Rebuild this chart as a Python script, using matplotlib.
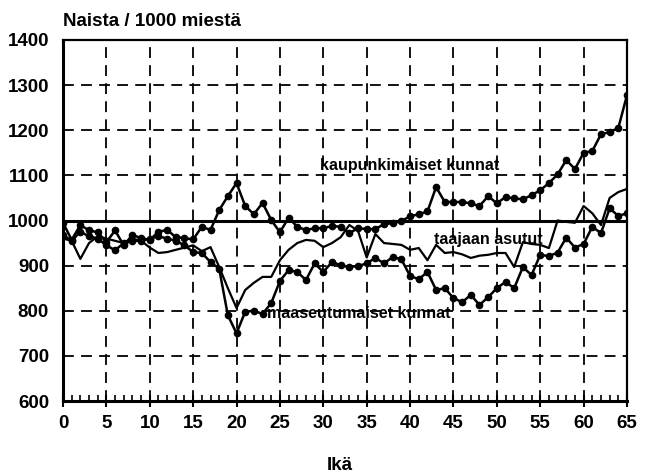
import numpy as np
import matplotlib.pyplot as plt
from matplotlib.ticker import MultipleLocator

ages = list(range(0, 66))

kaupunki = [995, 957, 990, 978, 974, 952, 978, 945, 968, 961,
            957, 975, 979, 963, 961, 958, 986, 979, 1023, 1054,
            1083, 1032, 1014, 1039, 1001, 974, 1006, 986, 979, 983,
            983, 988, 986, 972, 983, 981, 981, 992, 994, 999,
            1009, 1014, 1020, 1074, 1041, 1041, 1041, 1038, 1032, 1054,
            1038, 1052, 1049, 1047, 1056, 1067, 1083, 1102, 1134, 1114,
            1150, 1154, 1191, 1196, 1205, 1278]

taajaan = [960, 955, 915, 950, 965, 960, 955, 950, 960, 955,
           940, 928, 930, 935, 940, 945, 932, 941, 897, 850,
           806, 846, 862, 875, 875, 912, 935, 950, 957, 955,
           941, 950, 963, 990, 977, 918, 970, 950, 948, 946,
           935, 939, 912, 946, 928, 930, 925, 917, 922, 924,
           928, 928, 897, 952, 948, 946, 939, 1000, 997, 995,
           1032, 1016, 990, 1050, 1063, 1070]

maaseutu = [968, 955, 975, 965, 960, 945, 934, 950, 955, 955,
            960, 965, 960, 955, 945, 930, 928, 908, 893, 790,
            750, 798, 800, 793, 817, 866, 890, 886, 868, 905,
            886, 908, 901, 897, 899, 905, 917, 905, 919, 914,
            877, 870, 886, 846, 850, 828, 819, 835, 813, 830,
            850, 864, 850, 897, 879, 924, 921, 929, 962, 940,
            948, 986, 972, 1027, 1010, 1016]

plt.rcParams['font.family'] = ['Liberation Sans', 'DejaVu Sans']
plt.rcParams['font.weight'] = 'bold'

fig = plt.figure(figsize=(6.49, 4.74), dpi=100)
ax = fig.add_axes([63/649, 1-401/474, 564/649, 361/474])

ax.axhline(1000, color='black', lw=2.2, zorder=2)
ax.plot(ages, kaupunki, color='black', lw=1.8, marker='o', ms=4.5, zorder=3)
ax.plot(ages, taajaan, color='black', lw=1.6, zorder=3)
ax.plot(ages, maaseutu, color='black', lw=1.8, marker='o', ms=4.5, zorder=3)

ax.set_xlim(0, 65)
ax.set_ylim(600, 1400)
ax.xaxis.set_major_locator(MultipleLocator(5))
ax.xaxis.set_minor_locator(MultipleLocator(1))
ax.yaxis.set_major_locator(MultipleLocator(100))
ax.grid(True, which='major', color='black', ls=(0, (6, 4)), lw=1.3)
ax.tick_params(axis='x', which='major', direction='inout', length=8, width=1.5,
               labelsize=13.5, pad=6)
ax.tick_params(axis='x', which='minor', direction='in', length=4, width=1.2)
ax.tick_params(axis='y', which='major', length=0, labelsize=13.5, pad=10)
for lab in ax.get_xticklabels() + ax.get_yticklabels():
    lab.set_fontweight('bold')
for s in ['left', 'bottom']:
    ax.spines[s].set_linewidth(2.2)
for s in ['top', 'right']:
    ax.spines[s].set_linewidth(1.6)

ax.text(29.6, 1122, 'kaupunkimaiset kunnat', fontsize=11.5, fontweight='bold',
        va='center', ha='left', zorder=4)
ax.text(42.8, 957, 'taajaan asutut', fontsize=11.5, fontweight='bold',
        va='center', ha='left', zorder=4)
ax.text(23.5, 795, 'maaseutumaiset kunnat', fontsize=11.5, fontweight='bold',
        va='center', ha='left', zorder=4)

fig.text(63/649, 1-22/474, 'Naista / 1000 miestä', fontsize=13.5, fontweight='bold',
         va='center', ha='left')
fig.text(340/649, 1-465/474, 'Ikä', fontsize=13.5, fontweight='bold',
         va='center', ha='center')

fig.savefig('out.png', dpi=100)
